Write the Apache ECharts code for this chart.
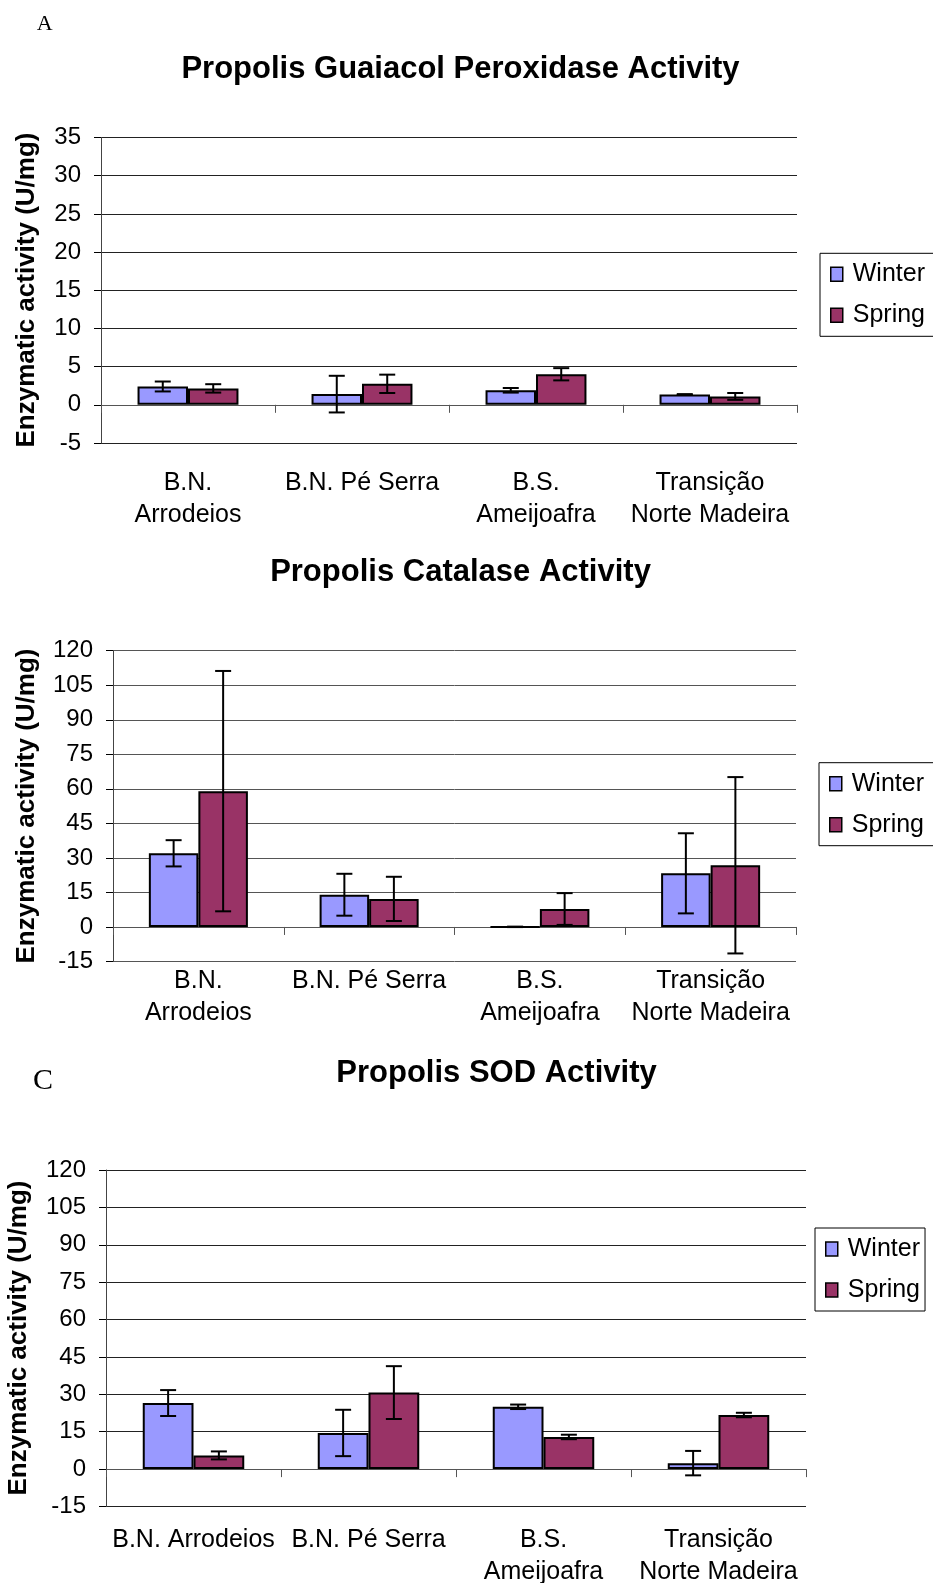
<!DOCTYPE html>
<html><head><meta charset="utf-8">
<script src="https://cdn.jsdelivr.net/npm/echarts@6/dist/echarts.min.js"></script>
<style>html,body{margin:0;padding:0;background:#fff}#c{width:933px;height:1583px}</style>
</head><body><div id="c"></div>
<script>
// ---- data ----
const catsAB = ['B.N.\nArrodeios', 'B.N. Pé Serra', 'B.S.\nAmeijoafra', 'Transição\nNorte Madeira'];
const catsC = ['B.N. Arrodeios', 'B.N. Pé Serra', 'B.S.\nAmeijoafra', 'Transição\nNorte Madeira'];
const seriesNames = ['Winter', 'Spring'];
const titles = ['Propolis Guaiacol Peroxidase Activity', 'Propolis Catalase Activity', 'Propolis SOD Activity'];
const yName = 'Enzymatic activity (U/mg)';
const panelLetters = ['A', 'C'];

const gpxWinter = [2.4, 1.4, 1.9, 1.35];
const gpxWinterErr = [0.65, 2.4, 0.3, 0.05];
const gpxSpring = [2.15, 2.75, 4.0, 1.1];
const gpxSpringErr = [0.55, 1.2, 0.8, 0.45];

const catWinter = [32, 14, 0.05, 23.3];
const catWinterErr = [5.7, 9.1, 0.1, 17.4];
const catSpring = [59, 12.2, 7.8, 26.8];
const catSpringErr = [52.2, 9.6, 6.9, 38.3];

const sodWinter = [26.5, 14.5, 25, 2.4];
const sodWinterErr = [5.2, 9.3, 0.9, 4.9];
const sodSpring = [5.5, 30.7, 12.9, 21.7];
const sodSpringErr = [1.6, 10.6, 0.9, 0.9];

const yScaleA = [-5, 35, 5];     // min, max, interval
const yScaleBC = [-15, 120, 15];

// ---- styling / layout ----
const FONT = "'Liberation Sans', Arial, sans-serif";
const COLORS = ['#9999FF', '#993366'];
const GAP = 0.42;
const panels = [
  {cats: catsAB, w: gpxWinter, we: gpxWinterErr, s: gpxSpring, se: gpxSpringErr, sc: yScaleA,
   grid: {left: 101, top: 137.5, width: 696, height: 305.5}, lblMargin: 24, grid_line: '#222',
   legend: {left: 820, top: 253.3, padR: 14}, title: [460.5, 69], yname: [27, 290]},
  {cats: catsAB, w: catWinter, we: catWinterErr, s: catSpring, se: catSpringErr, sc: yScaleBC,
   grid: {left: 113, top: 650.7, width: 683, height: 310.8}, lblMargin: 4, grid_line: '#555',
   legend: {left: 819, top: 762.7, padR: 14}, title: [460.5, 572], yname: [27, 806]},
  {cats: catsC, w: sodWinter, we: sodWinterErr, s: sodSpring, se: sodSpringErr, sc: yScaleBC,
   grid: {left: 106, top: 1170, width: 700, height: 336.5}, lblMargin: 18, grid_line: '#222',
   legend: {left: 815, top: 1228, padR: 5}, title: [496.5, 1073.5], yname: [19, 1338]}
];

function errRender(side) {
  return function (params, api) {
    const x = api.value(0), v = api.value(1), e = api.value(2);
    const hi = api.coord([x, v + e]);
    const lo = api.coord([x, v - e]);
    const band = api.size([1, 0])[0];
    const bw = band * (1 - GAP) / 2;
    const cx = hi[0] + side * bw / 2;
    const cap = 8;
    const st = {stroke: '#000', lineWidth: 2};
    return {type: 'group', children: [
      {type: 'line', shape: {x1: cx, y1: hi[1], x2: cx, y2: lo[1]}, style: st},
      {type: 'line', shape: {x1: cx - cap, y1: hi[1], x2: cx + cap, y2: hi[1]}, style: st},
      {type: 'line', shape: {x1: cx - cap, y1: lo[1], x2: cx + cap, y2: lo[1]}, style: st}
    ]};
  };
}

const grid = [], xAxis = [], yAxis = [], series = [], legend = [], graphic = [];
panels.forEach((p, g) => {
  grid.push(Object.assign({containLabel: false, outerBoundsMode: 'none'}, p.grid));
  xAxis.push({type: 'category', gridIndex: g, data: p.cats, position: 'bottom',
    axisLine: {show: false, onZero: false}, axisTick: {show: false}, splitLine: {show: false},
    axisLabel: {interval: 0, margin: p.lblMargin, fontSize: 25, lineHeight: 32, color: '#000', fontFamily: FONT}});
  xAxis.push({type: 'category', gridIndex: g, data: p.cats, position: 'top',
    axisLine: {show: true, onZero: true, lineStyle: {color: '#555', width: 1}},
    axisTick: {show: true, inside: true, length: 8, lineStyle: {color: '#555'}},
    axisLabel: {show: false}, splitLine: {show: false}});
  yAxis.push({type: 'value', gridIndex: g, min: p.sc[0], max: p.sc[1], interval: p.sc[2],
    axisLine: {show: true, onZero: false, lineStyle: {color: '#444', width: 1}},
    axisTick: {show: true, length: 7, lineStyle: {color: '#000'}},
    axisLabel: {margin: 20, fontSize: 24, color: '#000', fontFamily: FONT},
    splitLine: {show: true, lineStyle: {color: p.grid_line, width: 1}}});
  const vals = [[p.w, p.we], [p.s, p.se]];
  vals.forEach((d, k) => {
    series.push({type: 'bar', name: seriesNames[k], xAxisIndex: 2 * g, yAxisIndex: g, data: d[0],
      barGap: '0%', barCategoryGap: (GAP * 100) + '%',
      itemStyle: {color: COLORS[k], borderColor: '#000', borderWidth: 2}, z: 2});
  });
  vals.forEach((d, k) => {
    series.push({type: 'custom', name: 'err' + k, xAxisIndex: 2 * g, yAxisIndex: g,
      data: d[0].map((v, i) => [i, v, d[1][i]]), encode: {x: 0, y: 1},
      renderItem: errRender(k === 0 ? -1 : 1), z: 5, silent: true});
  });
  legend.push({data: seriesNames.map(n => ({name: n, icon: 'rect'})), orient: 'vertical',
    left: p.legend.left, top: p.legend.top,
    padding: [7, p.legend.padR, 7, 10], itemGap: 13, itemWidth: 12, itemHeight: 14,
    borderColor: '#000', borderWidth: 1, backgroundColor: '#fff',
    itemStyle: {borderColor: '#000', borderWidth: 1.5},
    textStyle: {fontSize: 25, lineHeight: 28, color: '#000', fontFamily: FONT, padding: [0, 0, 0, 5]}});
  graphic.push({type: 'text', x: p.title[0], y: p.title[1],
    style: {text: titles[g], textAlign: 'center', textVerticalAlign: 'middle',
      fontSize: 31, fontWeight: 'bold', fontFamily: FONT, fill: '#000'}});
  graphic.push({type: 'text', x: p.yname[0], y: p.yname[1], rotation: Math.PI / 2,
    style: {text: yName, textAlign: 'center', textVerticalAlign: 'middle',
      fontSize: 26, fontWeight: 'bold', fontFamily: FONT, fill: '#000'}});
});
graphic.push({type: 'text', x: 44.6, y: 24.5, style: {text: panelLetters[0], textAlign: 'center', textVerticalAlign: 'middle',
  fontSize: 22, fontFamily: "'Liberation Serif', 'Times New Roman', serif", fill: '#000'}});
graphic.push({type: 'text', x: 43, y: 1080.7, style: {text: panelLetters[1], textAlign: 'center', textVerticalAlign: 'middle',
  fontSize: 30, fontFamily: "'Liberation Serif', 'Times New Roman', serif", fill: '#000'}});

const chart = echarts.init(document.getElementById('c'), null, {renderer: 'canvas'});
chart.setOption({animation: false, backgroundColor: '#fff', grid, xAxis, yAxis, series, legend, graphic});
</script>
</body></html>
